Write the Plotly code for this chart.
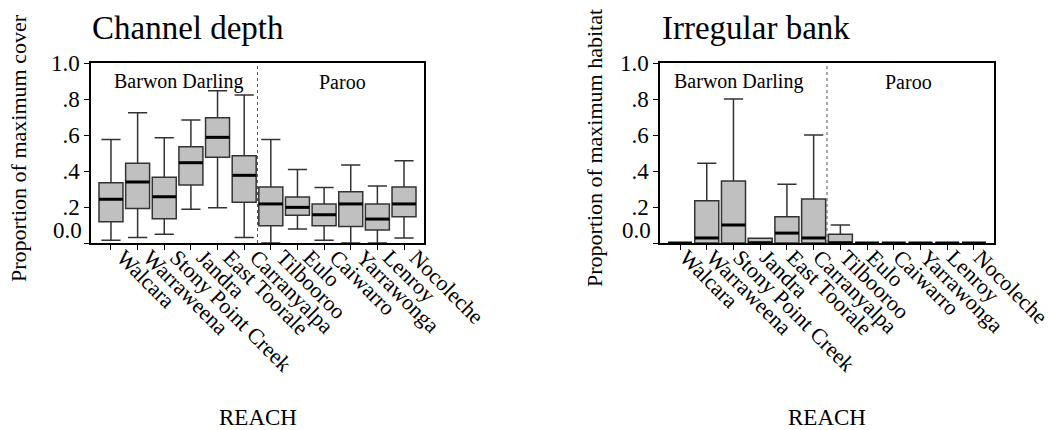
import plotly.graph_objects as go

# Reaches, grouped by river (first six Barwon Darling, last six Paroo)
reaches = ["Walcara", "Warraweena", "Stony Point Creek", "Jandra", "East Toorale",
           "Carranyalpa", "Tilbooroo", "Eulo", "Caiwarro", "Yarrawonga", "Lenroy", "Nocoleche"]

# Channel depth: proportion of maximum cover
depth_low = [0.015, 0.03, 0.048, 0.187, 0.196, 0.03, 0.0, 0.078, 0.015, 0.0, 0.0, 0.028]
depth_q1 = [0.118, 0.191, 0.135, 0.322, 0.476, 0.227, 0.096, 0.154, 0.096, 0.091, 0.072, 0.146]
depth_med = [0.243, 0.339, 0.257, 0.446, 0.587, 0.376, 0.217, 0.198, 0.157, 0.217, 0.133, 0.217]
depth_q3 = [0.335, 0.443, 0.365, 0.535, 0.696, 0.485, 0.311, 0.256, 0.217, 0.285, 0.217, 0.311]
depth_high = [0.575, 0.724, 0.585, 0.683, 0.846, 0.822, 0.575, 0.409, 0.309, 0.433, 0.317, 0.457]

# Irregular bank: proportion of maximum habitat
bank_low = [0, 0, 0, 0, 0, 0, 0, 0, 0, 0, 0, 0]
bank_q1 = [0, 0, 0, 0, 0, 0, 0, 0, 0, 0, 0, 0]
bank_med = [0, 0.028, 0.10, 0, 0.055, 0.028, 0, 0, 0, 0, 0, 0]
bank_q3 = [0, 0.235, 0.344, 0.027, 0.146, 0.244, 0.048, 0, 0, 0, 0, 0]
bank_high = [0, 0.443, 0.80, 0.027, 0.327, 0.60, 0.10, 0, 0, 0, 0, 0]

y_ticks = [0, 0.2, 0.4, 0.6, 0.8, 1.0]
y_ticktext = ["", ".2", ".4", ".6", ".8", "1.0"]

FONT = "Liberation Serif"
W, H = 1054, 430
BOX_FILL = "#c0c0c0"
BOX_LINE = "#333333"

fig = go.Figure()

panels = [
    ("x", "y", depth_low, depth_q1, depth_med, depth_q3, depth_high),
    ("x2", "y2", bank_low, bank_q1, bank_med, bank_q3, bank_high),
]
for xa, ya, lo, q1, med, q3, hi in panels:
    fig.add_trace(go.Box(
        x=reaches, lowerfence=lo, q1=q1, median=med, q3=q3, upperfence=hi,
        xaxis=xa, yaxis=ya, boxpoints=False, width=0.9, whiskerwidth=0.8,
        fillcolor=BOX_FILL, line=dict(color=BOX_LINE, width=1.5),
        showlegend=False, hoverinfo="skip",
    ))
    # heavier black median bar across each box
    fig.add_trace(go.Scatter(
        x=reaches, y=med, xaxis=xa, yaxis=ya, mode="markers",
        marker=dict(symbol="line-ew", size=17, color="black",
                    line=dict(color="black", width=3)),
        showlegend=False, hoverinfo="skip", cliponaxis=False,
    ))

x_dom_left = [91 / W, 424 / W]
x_dom_right = [660 / W, 994 / W]
y_dom = [1 - 243 / H, 1 - 63 / H]

xaxis_style = dict(
    type="category", range=[-0.75, 11.75], tickmode="array",
    tickvals=reaches, ticktext=reaches, showline=True, linecolor="black",
    linewidth=1.5, mirror=True, ticks="outside", ticklen=5, tickcolor="black",
    tickangle=45, tickfont=dict(family=FONT, size=22, color="black"),
    ticklabelstandoff=-14,
    showgrid=False, zeroline=False, fixedrange=True, automargin=False,
)
yaxis_style = dict(
    range=[0, 1.0], tickvals=y_ticks, ticktext=y_ticktext, showline=True,
    linecolor="black", linewidth=1.5, mirror=True, ticks="outside", ticklen=5,
    tickcolor="black", tickfont=dict(family=FONT, size=23, color="black"),
    showgrid=False, zeroline=False, fixedrange=True, automargin=False,
)

fig.update_layout(
    width=W, height=H,
    margin=dict(l=0, r=0, t=0, b=0, autoexpand=False),
    paper_bgcolor="white", plot_bgcolor="white",
    font=dict(family=FONT, color="black"),
    xaxis=dict(domain=x_dom_left, anchor="y", ticklabelshift=12, **xaxis_style),
    yaxis=dict(domain=y_dom, anchor="x", **yaxis_style),
    xaxis2=dict(domain=x_dom_right, anchor="y2", ticklabelshift=6, **xaxis_style),
    yaxis2=dict(domain=y_dom, anchor="x2", **yaxis_style),
)

# dotted divider between the two rivers
for xr, yr in (("x", "y"), ("x2", "y2")):
    fig.add_shape(type="line", xref=xr, yref=f"{yr} domain", x0=5.5, x1=5.5,
                  y0=0, y1=1, line=dict(color="#555555", width=1, dash="dot"))

annotations = []
for xr, yr, title, ytitle, xpaper, bd_x, pa_x, ytitle_x in (
    ("x", "y", "Channel depth", "Proportion of maximum cover", 90 / W, 2.55, 8.7, 18 / W),
    ("x2", "y2", "Irregular bank", "Proportion of maximum habitat", 660 / W, 2.2, 8.55, 594 / W),
):
    annotations += [
        dict(text=title, xref="paper", yref="paper", x=xpaper, y=1 - 28 / H,
             xanchor="left", yanchor="middle", showarrow=False,
             font=dict(family=FONT, size=33, color="black")),
        dict(text="Barwon Darling", xref=xr, yref=yr, x=bd_x, y=0.895,
             showarrow=False, font=dict(family=FONT, size=20, color="black")),
        dict(text="Paroo", xref=xr, yref=yr, x=pa_x, y=0.895,
             showarrow=False, font=dict(family=FONT, size=20, color="black")),
        dict(text="0.0", xref=f"{xr} domain", yref=yr, x=0, y=0, xanchor="right",
             yanchor="middle", xshift=-7, yshift=12, showarrow=False,
             font=dict(family=FONT, size=23, color="black")),
        dict(text=ytitle, xref="paper", yref="paper", x=ytitle_x, y=1 - 148 / H,
             xanchor="center", yanchor="middle", textangle=-90, showarrow=False,
             font=dict(family=FONT, size=22, color="black")),
        dict(text="REACH", xref=f"{xr} domain", yref="paper", x=0.5, y=1 - 417 / H,
             xanchor="center", yanchor="middle", showarrow=False,
             font=dict(family=FONT, size=23, color="black")),
    ]
fig.update_layout(annotations=annotations)

fig.write_html("out.html")
